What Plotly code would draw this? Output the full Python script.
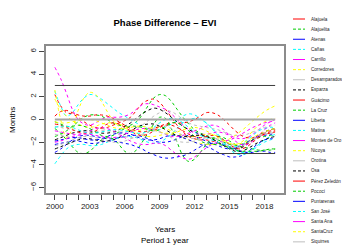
import plotly.graph_objects as go

# ---------------- data ----------------
years = [2000.0, 2000.5, 2001.0, 2001.5, 2002.0, 2002.5, 2003.0, 2003.5, 2004.0, 2004.5,
         2005.0, 2005.5, 2006.0, 2006.5, 2007.0, 2007.5, 2008.0, 2008.5, 2009.0, 2009.5,
         2010.0, 2010.5, 2011.0, 2011.5, 2012.0, 2012.5, 2013.0, 2013.5, 2014.0, 2014.5,
         2015.0, 2015.5, 2016.0, 2016.5, 2017.0, 2017.5, 2018.0, 2018.5, 2018.92]

names = ["Alajuela", "Alajuelita", "Atenas", "Cañas", "Carrillo", "Corredores",
         "Desamparados", "Esparza", "Guácimo", "La Cruz", "Liberia", "Matina",
         "Montes de Oro", "Nicoya", "Orotina", "Osa", "Pérez Zeledón", "Pococí",
         "Puntarenas", "San José", "Santa Ana", "SantaCruz", "Siquirres"]

alajuela = [2.2, 1.2, 0.6, 0.5, 0.2, -0.2, -0.5, -0.7, -0.8, -0.7, -0.5, -0.3, -0.1, 0.2, 0.8, 1.4, 1.7, 1.8, 1.5, 0.9,
            0.2, -0.5, -1.1, -1.5, -1.7, -1.8, -1.8, -1.9, -2.0, -2.2, -2.4, -2.5, -2.4, -2.1, -1.8, -1.5, -1.3, -1.2, -1.1]
alajuelita = [-1.5, -1.3, -1.0, -0.6, -0.2, 0.2, 0.4, 0.4, 0.3, 0.0, -0.3, -0.5, -0.6, -0.5, -0.2, 0.4, 1.2, 1.9, 2.2, 2.1,
              1.6, 0.9, 0.2, -0.4, -0.9, -1.2, -1.4, -1.6, -1.8, -2.0, -2.2, -2.3, -2.2, -2.0, -1.8, -1.6, -1.5, -1.4, -1.4]
atenas = [-2.9, -2.6, -2.2, -1.8, -1.5, -1.4, -1.4, -1.5, -1.6, -1.7, -1.7, -1.6, -1.5, -1.4, -1.4, -1.5, -1.7, -1.9, -2.0, -2.0,
          -1.9, -1.7, -1.5, -1.4, -1.5, -1.7, -1.9, -2.1, -2.3, -2.5, -2.6, -2.5, -2.3, -2.0, -1.7, -1.5, -1.4, -1.3, -1.3]
canas = [2.5, 1.2, 0.3, 0.6, 1.3, 1.9, 2.2, 2.1, 1.8, 1.4, 1.0, 0.6, 0.3, 0.0, -0.3, -0.6, -0.8, -0.9, -0.9, -0.7,
         -0.4, -0.1, 0.3, 0.5, 0.4, 0.1, -0.3, -0.8, -1.3, -1.8, -2.3, -2.7, -2.9, -2.9, -2.6, -2.2, -1.8, -1.5, -1.3]
carrillo = [4.6, 3.6, 2.3, 0.9, 0.0, -0.4, -0.5, -0.3, 0.0, 0.2, 0.2, 0.2, 0.3, 0.5, 0.9, 1.3, 1.4, 1.3, 1.1, 0.9,
            0.5, 0.0, -0.5, -0.9, -1.2, -1.3, -1.3, -1.2, -1.1, -1.2, -1.4, -1.6, -1.7, -1.6, -1.3, -0.9, -0.5, -0.2, 0.0]
corredores = [2.6, 0.0, -1.6, -0.8, 0.8, 1.9, 2.4, 2.2, 1.6, 0.7, -0.1, -0.6, -0.9, -1.0, -1.0, -0.9, -0.8, -0.7, -0.7, -0.8,
              -1.0, -1.2, -1.4, -1.5, -1.5, -1.4, -1.3, -1.3, -1.5, -1.8, -2.1, -2.2, -2.0, -1.6, -1.0, -0.5, -0.2, 0.0, 0.1]
desamparados = [-0.6, -0.7, -0.8, -0.9, -1.0, -1.0, -0.9, -0.8, -0.8, -0.9, -1.0, -1.1, -1.1, -1.0, -0.8, -0.5, -0.1, 0.3, 0.6, 0.8,
                0.7, 0.4, 0.0, -0.3, -0.5, -0.6, -0.7, -0.8, -0.9, -1.1, -1.3, -1.4, -1.4, -1.3, -1.1, -0.9, -0.7, -0.6, -0.5]
esparza = [-1.8, -1.6, -1.4, -1.2, -1.1, -1.0, -1.0, -1.1, -1.2, -1.2, -1.1, -0.9, -0.6, -0.3, 0.1, 0.5, 0.8, 1.0, 0.9, 0.6,
           0.2, -0.2, -0.6, -0.9, -1.1, -1.3, -1.5, -1.7, -2.0, -2.3, -2.6, -2.8, -2.8, -2.6, -2.3, -2.0, -1.8, -1.6, -1.5]
guacimo = [0.3, 0.7, 0.8, 0.6, 0.4, 0.3, 0.3, 0.4, 0.4, 0.3, 0.1, -0.2, -0.5, -0.8, -1.0, -1.1, -1.0, -0.8, -0.6, -0.4,
           -0.3, -0.3, -0.3, -0.2, 0.0, 0.3, 0.6, 0.6, 0.4, 0.0, -0.5, -1.0, -1.4, -1.6, -1.6, -1.4, -1.2, -1.0, -0.9]
la_cruz = [-0.8, -1.2, -1.8, -2.4, -2.9, -3.0, -2.8, -2.3, -1.8, -1.6, -1.7, -2.2, -2.8, -3.0, -2.7, -2.0, -1.2, -0.4, 0.2, 0.1,
           -0.8, -2.0, -3.2, -3.7, -3.5, -2.9, -2.2, -1.7, -1.5, -1.6, -1.9, -2.2, -2.4, -2.5, -2.6, -2.7, -2.7, -2.7, -2.6]
liberia = [-2.2, -2.1, -2.0, -1.9, -1.9, -2.0, -2.1, -2.1, -2.0, -1.9, -1.9, -2.0, -2.1, -2.2, -2.4, -2.6, -2.9, -3.1, -3.3, -3.4,
           -3.4, -3.3, -3.2, -3.0, -2.7, -2.4, -2.2, -2.1, -2.1, -2.2, -2.4, -2.6, -2.8, -2.9, -2.9, -2.8, -2.8, -2.9, -2.9]
matina = [-3.9, -3.2, -2.6, -2.3, -2.2, -2.2, -2.3, -2.3, -2.2, -2.0, -1.8, -1.6, -1.5, -1.5, -1.6, -1.8, -2.0, -2.1, -2.0, -1.7,
          -1.3, -0.8, -0.3, 0.0, 0.1, 0.0, -0.3, -0.8, -1.4, -2.0, -2.6, -3.0, -3.1, -3.0, -2.7, -2.3, -2.0, -1.8, -1.7]
montes_de_oro = [-1.0, -1.1, -1.2, -1.3, -1.3, -1.2, -1.0, -0.8, -0.7, -0.8, -1.0, -1.3, -1.6, -1.9, -2.1, -2.2, -2.2, -2.1, -2.1, -2.3,
                 -2.7, -3.1, -3.4, -3.5, -3.3, -2.9, -2.5, -2.2, -2.0, -1.9, -1.8, -1.6, -1.3, -1.0, -0.7, -0.5, -0.3, -0.2, -0.1]
nicoya = [1.8, 0.9, 0.3, -0.1, -0.4, -0.6, -0.7, -0.6, -0.4, -0.3, -0.3, -0.4, -0.6, -0.9, -1.2, -1.4, -1.5, -1.5, -1.4, -1.3,
          -1.3, -1.4, -1.6, -1.8, -2.0, -2.1, -2.2, -2.2, -2.1, -1.9, -1.7, -1.4, -1.0, -0.6, -0.1, 0.3, 0.7, 1.0, 1.2]
orotina = [-1.3, -1.4, -1.5, -1.6, -1.6, -1.5, -1.3, -1.1, -1.0, -1.0, -1.1, -1.3, -1.5, -1.6, -1.6, -1.4, -1.1, -0.8, -0.6, -0.6,
           -0.8, -1.1, -1.4, -1.6, -1.7, -1.7, -1.6, -1.6, -1.7, -1.9, -2.1, -2.3, -2.3, -2.1, -1.8, -1.5, -1.3, -1.2, -1.2]
osa = [-2.6, -2.4, -2.2, -2.0, -1.8, -1.7, -1.7, -1.8, -1.9, -1.9, -1.8, -1.6, -1.3, -1.0, -0.7, -0.5, -0.4, -0.4, -0.6, -0.9,
       -1.2, -1.4, -1.5, -1.5, -1.4, -1.4, -1.5, -1.7, -2.0, -2.3, -2.5, -2.6, -2.5, -2.2, -1.8, -1.4, -1.1, -0.9, -0.8]
perez_zeledon = [-0.4, -0.5, -0.7, -0.9, -1.1, -1.2, -1.2, -1.0, -0.7, -0.4, -0.3, -0.4, -0.7, -1.0, -1.3, -1.4, -1.3, -1.0, -0.7, -0.5,
                 -0.5, -0.7, -1.0, -1.3, -1.5, -1.6, -1.5, -1.4, -1.5, -1.8, -2.2, -2.5, -2.6, -2.4, -2.0, -1.6, -1.3, -1.1, -1.0]
pococi = [-0.2, -0.4, -0.6, -0.6, -0.5, -0.6, -0.8, -1.1, -1.4, -1.5, -1.4, -1.1, -0.8, -0.6, -0.6, -0.7, -0.9, -1.0, -0.9, -0.6,
          -0.3, -0.3, -0.6, -1.0, -1.5, -1.9, -2.1, -2.2, -2.2, -2.3, -2.5, -2.7, -2.8, -2.8, -2.8, -2.8, -2.7, -2.6, -2.6]
puntarenas = [-1.9, -1.8, -1.7, -1.6, -1.6, -1.7, -1.8, -1.8, -1.7, -1.5, -1.3, -1.2, -1.2, -1.3, -1.5, -1.7, -1.8, -1.8, -1.7, -1.5,
              -1.4, -1.4, -1.6, -1.8, -2.0, -2.2, -2.4, -2.6, -2.9, -3.1, -3.3, -3.3, -3.2, -2.9, -2.5, -2.1, -1.8, -1.7, -1.7]
san_jose = [-0.7, -0.6, -0.6, -0.7, -0.9, -1.1, -1.2, -1.2, -1.1, -1.0, -0.9, -0.9, -1.0, -1.1, -1.2, -1.2, -1.0, -0.7, -0.3, 0.0,
            0.1, 0.0, -0.3, -0.7, -1.1, -1.4, -1.6, -1.8, -2.0, -2.2, -2.4, -2.4, -2.2, -1.8, -1.4, -1.0, -0.8, -0.7, -0.7]
santa_ana = [-2.0, -1.9, -1.7, -1.5, -1.4, -1.3, -1.3, -1.4, -1.5, -1.6, -1.6, -1.5, -1.3, -1.1, -0.9, -0.8, -0.8, -0.9, -1.1, -1.3,
             -1.5, -1.5, -1.4, -1.2, -1.0, -0.8, -0.6, -0.5, -0.6, -0.9, -1.4, -1.9, -2.2, -2.2, -1.9, -1.4, -0.9, -0.5, -0.3]
santacruz = [-0.2, -0.3, -0.3, -0.2, -0.1, 0.0, 0.0, -0.1, -0.3, -0.5, -0.7, -0.8, -0.8, -0.7, -0.6, -0.6, -0.7, -0.9, -1.1, -1.2,
             -1.2, -1.1, -0.9, -0.8, -0.7, -0.8, -1.0, -1.3, -1.6, -1.9, -2.1, -2.2, -2.1, -1.9, -1.6, -1.3, -1.1, -0.9, -0.8]
siquirres = [-2.3, -2.2, -2.0, -1.8, -1.6, -1.5, -1.5, -1.6, -1.7, -1.9, -2.0, -2.0, -1.9, -1.7, -1.5, -1.3, -1.1, -1.0, -1.1, -1.3,
             -1.6, -1.9, -2.0, -2.0, -1.9, -1.7, -1.6, -1.6, -1.8, -2.1, -2.4, -2.5, -2.4, -2.1, -1.7, -1.4, -1.2, -1.1, -1.1]

series = [alajuela, alajuelita, atenas, canas, carrillo, corredores, desamparados, esparza,
          guacimo, la_cruz, liberia, matina, montes_de_oro, nicoya, orotina, osa,
          perez_zeledon, pococi, puntarenas, san_jose, santa_ana, santacruz, siquirres]

ref_levels = [3, -3]
zero_level = [0]

y_ticks = [-6, -4, -2, 0, 2, 4, 6]
x_ticks = list(range(2000, 2019))
x_labels = [str(v) if (v - 2000) % 3 == 0 else "" for v in x_ticks]

# ---------------- style ----------------
palette = ["#FF0000", "#00CD00", "#0000FF", "#00FFFF", "#FF00FF", "#FFFF00", "#BEBEBE", "#000000"]
FONT = "Liberation Sans, Arial, sans-serif"

# the page body adds an 8px offset; lay out in page pixels and subtract it
OFF = 8
W, H = 350 - OFF, 250 - OFF
P_LEFT, P_RIGHT, P_TOP, P_BOTTOM = 46, 284, 46, 193   # plot box in page pixels
ML, MT = P_LEFT - OFF, P_TOP - OFF
MR, MB = W - (P_RIGHT - OFF), H - (P_BOTTOM - OFF)
PW, PH = P_RIGHT - P_LEFT, P_BOTTOM - P_TOP

def px_to_paper(px, py):
    return (px - P_LEFT) / PW, (P_BOTTOM - py) / PH

fig = go.Figure()

for i, (nm, vals) in enumerate(zip(names, series)):
    assert len(vals) == len(years), nm
    fig.add_trace(go.Scatter(
        x=years, y=vals, mode="lines", name=nm, showlegend=False,
        line=dict(color=palette[i % 8], width=1, dash="3px,3px", shape="spline", smoothing=1.0),
    ))

for lv in ref_levels:
    fig.add_trace(go.Scatter(x=[years[0], years[-1]], y=[lv, lv], mode="lines",
                             showlegend=False, line=dict(color="#3c3c3c", width=1)))
for lv in zero_level:
    fig.add_trace(go.Scatter(x=[years[0], years[-1]], y=[lv, lv], mode="lines",
                             showlegend=False, line=dict(color="#a6a6a6", width=2)))

# manual legend (R style, compact)
shapes = []
annotations = []
leg_top, leg_step = 19.0, 10.13
for i, nm in enumerate(names):
    py = leg_top + i * leg_step
    x0, y0 = px_to_paper(293, py)
    x1, _ = px_to_paper(305, py)
    xt, _ = px_to_paper(310, py)
    shapes.append(dict(type="line", xref="paper", yref="paper", x0=x0, x1=x1, y0=y0, y1=y0,
                       line=dict(color=palette[i % 8], width=1, dash="solid" if i % 2 == 0 else "3px,2px")))
    annotations.append(dict(xref="paper", yref="paper", x=xt, y=y0, text=nm, showarrow=False,
                            xanchor="left", yanchor="middle", borderpad=0,
                            font=dict(size=4.6, color="#222222", family=FONT)))

# axis titles
xc, _ = px_to_paper(165, 0)
_, yy = px_to_paper(0, 229)
annotations.append(dict(xref="paper", yref="paper", x=xc, y=yy, text="Years", showarrow=False,
                        xanchor="center", yanchor="middle", font=dict(size=8, color="#000", family=FONT)))
_, yy = px_to_paper(0, 240)
annotations.append(dict(xref="paper", yref="paper", x=xc, y=yy, text="Period 1 year", showarrow=False,
                        xanchor="center", yanchor="middle", font=dict(size=8, color="#000", family=FONT)))
xm, ym = px_to_paper(12, 120)
annotations.append(dict(xref="paper", yref="paper", x=xm, y=ym, text="Months", showarrow=False,
                        textangle=-90, xanchor="center", yanchor="middle",
                        font=dict(size=8, color="#000", family=FONT)))

fig.update_layout(
    width=W, height=H,
    margin=dict(l=ML, r=MR, t=MT, b=MB, autoexpand=False),
    paper_bgcolor="white", plot_bgcolor="white",
    showlegend=False,
    title=dict(text="<b>Phase Difference – EVI</b>", x=(165 - OFF) / W, xanchor="center",
               y=1 - (23 - OFF) / H, yanchor="middle", font=dict(size=9.5, color="#000", family=FONT)),
    font=dict(family=FONT, size=8, color="#000"),
    shapes=shapes, annotations=annotations,
)
fig.update_xaxes(range=[1999.24, 2019.68], tickvals=x_ticks, ticktext=x_labels, automargin=False,
                 ticks="outside", ticklen=5, tickcolor="#444", tickwidth=1,
                 showgrid=False, zeroline=False, showline=True, mirror=True,
                 linecolor="#8c8c8c", linewidth=1.5, tickfont=dict(size=8, color="#222"))
fig.update_yaxes(range=[-6.48, 6.48], tickvals=y_ticks, tickangle=-90, automargin=False,
                 ticks="outside", ticklen=5, tickcolor="#444", tickwidth=1,
                 showgrid=False, zeroline=False, showline=True, mirror=True,
                 linecolor="#8c8c8c", linewidth=1.5, tickfont=dict(size=8, color="#222"))

fig.write_html("out.html")
